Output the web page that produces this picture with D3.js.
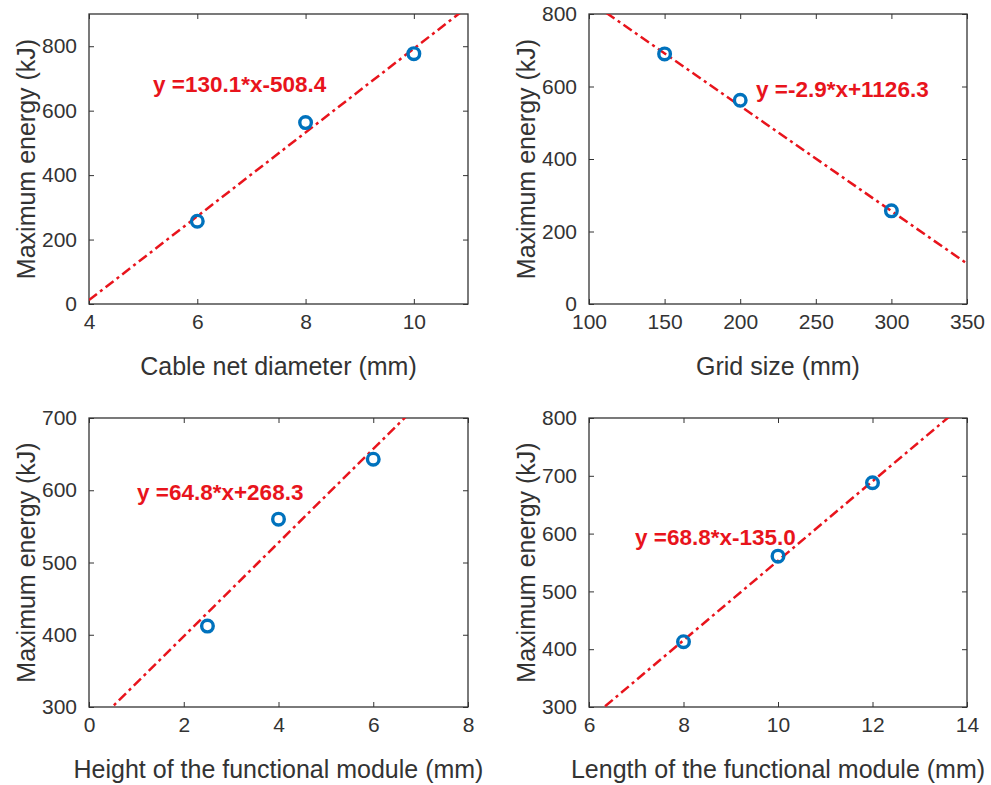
<!DOCTYPE html>
<html>
<head>
<meta charset="utf-8">
<script src="https://cdn.jsdelivr.net/npm/d3@7"></script>
<style>
  html, body { margin: 0; padding: 0; background: #fff; }
  svg { display: block; }
  text { font-family: "Liberation Sans", Arial, Helvetica, sans-serif; }
</style>
</head>
<body>
<svg id="chart" width="991" height="785"></svg>
<script>
// Maximum energy vs. each design parameter, with a linear fit per panel
const yTitle = "Maximum energy (kJ)";

const diameterX = [6, 8, 10];
const diameterY = [257, 563, 777];
const diameterFit = [130.1, -508.4];
const diameterTicksX = [4, 6, 8, 10];
const diameterTicksY = [0, 200, 400, 600, 800];

const gridX = [150, 200, 300];
const gridY = [690, 562, 257];
const gridFit = [-2.9, 1126.3];
const gridTicksX = [100, 150, 200, 250, 300, 350];
const gridTicksY = [0, 200, 400, 600, 800];

const heightX = [2.5, 4, 6];
const heightY = [412, 560, 643];
const heightFit = [64.8, 268.3];
const heightTicksX = [0, 2, 4, 6, 8];
const heightTicksY = [300, 400, 500, 600, 700];

const lengthX = [8, 10, 12];
const lengthY = [413, 561, 688];
const lengthFit = [68.8, -135.0];
const lengthTicksX = [6, 8, 10, 12, 14];
const lengthTicksY = [300, 400, 500, 600, 700, 800];

const panels = [
  { xs: diameterX, ys: diameterY, fit: diameterFit, xDom: [4, 11], yDom: [0, 900],
    tx: diameterTicksX, ty: diameterTicksY, xTitle: "Cable net diameter (mm)",
    box: [89, 14, 468, 304], label: [153, 84] },
  { xs: gridX, ys: gridY, fit: gridFit, xDom: [100, 350], yDom: [0, 800],
    tx: gridTicksX, ty: gridTicksY, xTitle: "Grid size (mm)",
    box: [589, 14, 967, 304], label: [756, 89] },
  { xs: heightX, ys: heightY, fit: heightFit, xDom: [0, 8], yDom: [300, 700],
    tx: heightTicksX, ty: heightTicksY, xTitle: "Height of the functional module (mm)",
    box: [89, 418, 468, 707], label: [137, 492] },
  { xs: lengthX, ys: lengthY, fit: lengthFit, xDom: [6, 14], yDom: [300, 800],
    tx: lengthTicksX, ty: lengthTicksY, xTitle: "Length of the functional module (mm)",
    box: [589, 418, 967, 707], label: [635, 537] }
];

const axisColor = "#333333";
const markerColor = "#0072BD";
const fitColor = "#E8141C";
const tickFont = 21;
const titleFont = 25;

const svg = d3.select("#chart");

function fmtEq(fit) {
  const a = fit[0].toFixed(1);
  const b = Math.abs(fit[1]).toFixed(1);
  return "y =" + a + "*x" + (fit[1] < 0 ? "-" : "+") + b;
}

panels.forEach(p => {
  const [x0, y0, x1, y1] = p.box;
  const x = d3.scaleLinear().domain(p.xDom).range([x0, x1]);
  const y = d3.scaleLinear().domain(p.yDom).range([y1, y0]);
  const g = svg.append("g");

  // clip for the fit line
  const clipId = "clip" + x0 + "_" + y0;
  svg.append("clipPath").attr("id", clipId)
    .append("rect").attr("x", x0).attr("y", y0).attr("width", x1 - x0).attr("height", y1 - y0);

  // inward ticks on all four sides
  const tk = 5;
  const fmt = d3.format("d");
  const bottom = d3.axisBottom(x).tickValues(p.tx).tickFormat(fmt)
    .tickSizeInner(-tk).tickSizeOuter(0).tickPadding(10);
  const left = d3.axisLeft(y).tickValues(p.ty).tickFormat(fmt)
    .tickSizeInner(-tk).tickSizeOuter(0).tickPadding(12);
  const top = d3.axisTop(x).tickValues(p.tx).tickSizeInner(-tk).tickSizeOuter(0).tickFormat("");
  const right = d3.axisRight(y).tickValues(p.ty).tickSizeInner(-tk).tickSizeOuter(0).tickFormat("");

  const styleAxis = sel => {
    sel.select(".domain").remove();
    sel.selectAll("line").attr("stroke", axisColor).attr("stroke-width", 1);
    sel.selectAll("text").attr("fill", axisColor).attr("font-size", tickFont)
      .style("font-family", '"Liberation Sans", Arial, sans-serif');
  };
  g.append("g").attr("transform", `translate(0,${y1})`).call(bottom).call(styleAxis);
  g.append("g").attr("transform", `translate(${x0},0)`).call(left).call(styleAxis);
  g.append("g").attr("transform", `translate(0,${y0})`).call(top).call(styleAxis);
  g.append("g").attr("transform", `translate(${x1},0)`).call(right).call(styleAxis);

  // frame
  g.append("rect").attr("x", x0).attr("y", y0).attr("width", x1 - x0).attr("height", y1 - y0)
    .attr("fill", "none").attr("stroke", axisColor).attr("stroke-width", 1.3);

  // fit line across the x range
  const fitPts = p.xDom.map(v => [v, p.fit[0] * v + p.fit[1]]);
  g.append("path")
    .attr("clip-path", `url(#${clipId})`)
    .attr("d", d3.line().x(d => x(d[0])).y(d => y(d[1]))(fitPts))
    .attr("fill", "none").attr("stroke", fitColor).attr("stroke-width", 2.5)
    .attr("stroke-dasharray", "10,4,3,4");

  // data markers
  g.selectAll("circle.pt").data(p.xs.map((v, i) => [v, p.ys[i]])).enter()
    .append("circle").attr("class", "pt")
    .attr("cx", d => x(d[0])).attr("cy", d => y(d[1])).attr("r", 5.8)
    .attr("fill", "none").attr("stroke", markerColor).attr("stroke-width", 3.4);

  // equation label
  g.append("text").attr("x", p.label[0]).attr("y", p.label[1]).attr("dy", "0.36em")
    .attr("fill", fitColor).attr("font-weight", "bold").attr("font-size", 22.5)
    .text(fmtEq(p.fit));

  // axis titles
  g.append("text").attr("x", (x0 + x1) / 2).attr("y", y1 + 71)
    .attr("text-anchor", "middle").attr("fill", axisColor).attr("font-size", titleFont)
    .text(p.xTitle);
  g.append("text")
    .attr("transform", `translate(${x0 - 54},${(y0 + y1) / 2}) rotate(-90)`)
    .attr("text-anchor", "middle").attr("fill", axisColor).attr("font-size", titleFont)
    .text(yTitle);
});
</script>
</body>
</html>
